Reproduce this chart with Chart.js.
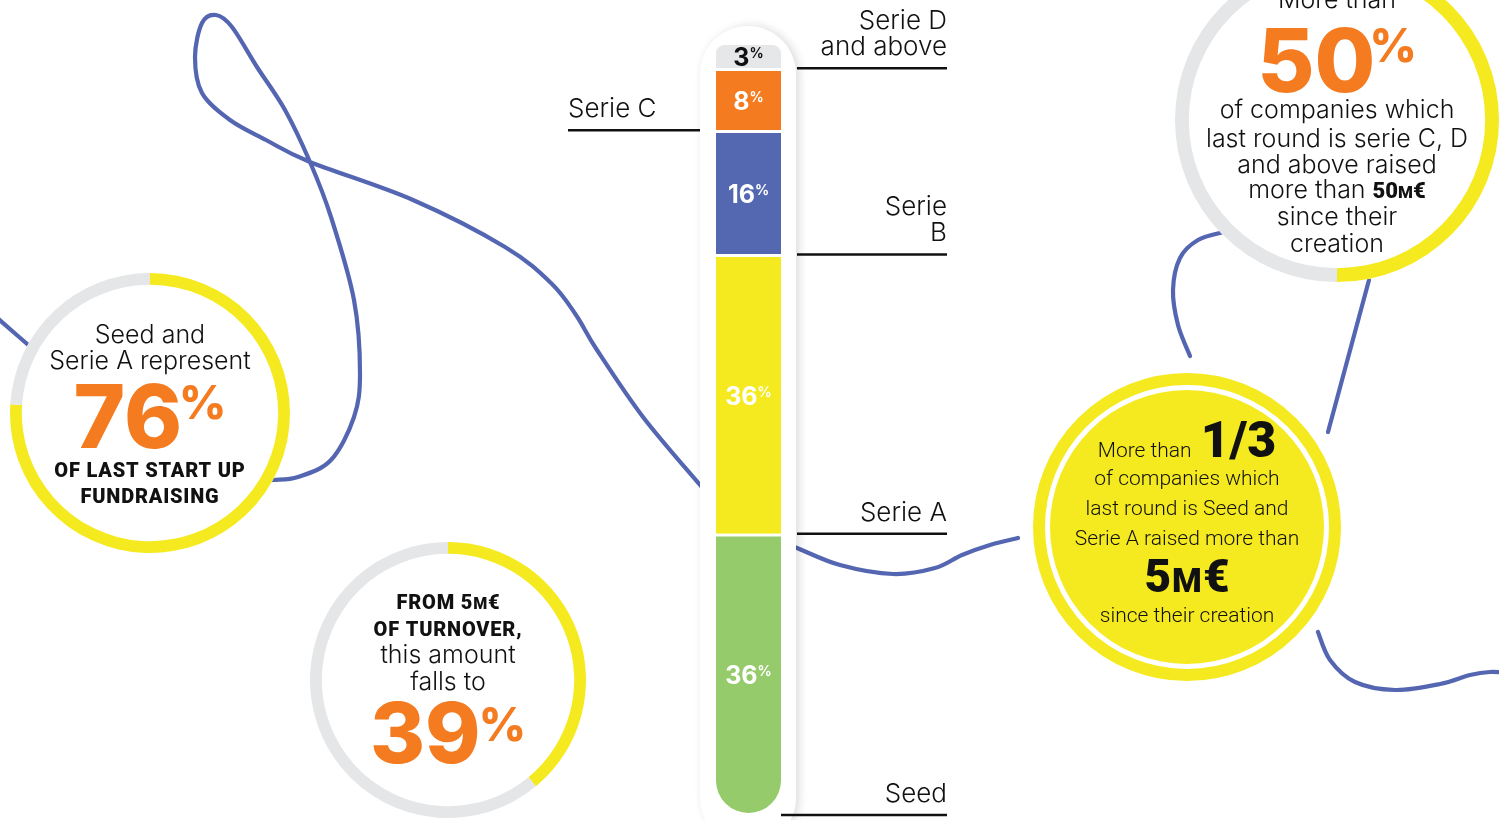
<!DOCTYPE html>
<html>
<head>
<meta charset="utf-8">
<title>Last round of fundraising</title>
<script src="https://cdn.jsdelivr.net/npm/chart.js@4.4.1/dist/chart.umd.min.js"></script>
<style>
html,body{margin:0;padding:0;background:#fff;overflow:hidden;width:1499px;height:820px}
#stage{position:relative;width:1499px;height:820px;overflow:hidden;background:#fff}
#stage canvas{position:absolute}
</style>
</head>
<body>
<div id="stage">
<canvas id="main" width="1499" height="820" style="left:0;top:0"></canvas>
<canvas id="ring0"></canvas>
<canvas id="ring1"></canvas>
<canvas id="ring2"></canvas>
</div>
<script>
// ================= DATA =================
const categories = ['Seed', 'Serie A', 'Serie B', 'Serie C', 'Serie D and above'];
const shares = [36, 36, 16, 8, 3];
const shareTotal = 99;
const stageLabelLines = [['Seed'], ['Serie A'], ['Serie', 'B'], ['Serie C'], ['Serie D', 'and above']];
const stageLabelSide = ['right', 'right', 'right', 'left', 'right'];
const highlightValues = [76, 39, 50];   // ring gauges (%)
const oneThirdLabel = '1/3';

// ================= STYLE =================
const BLUE = '#5466B1', YELLOW = '#F5EA1F', GRAY = '#E5E6E7', ORANGE = '#F47B20', INK = '#111111';
const stageColors = ['#95CB6B', YELLOW, '#5467B1', ORANGE, '#E6E7E8'];
const valueTextColors = ['#ffffff', '#ffffff', '#ffffff', '#ffffff', INK];
const LIGHT = "300 25px Inter";
const HEAVY = "900 20px Roboto";
const RLIGHT = "300 21px Roboto";

// decorative swirl curves (pure decoration, not data)
const CURVES = [
  [[-5,316],[34,350]],
  [[250,481],[273,480],[298,477],[331,460],[354,417],[360,373],[354,300],[331,217],[310,162],[285,110],[257,67],[232,27],[216,15],[202,23],[195,57],[202,93],[230,120],[266,140],[310,162],[413,200],[505,247],[551,283],[576,315],[597,350],[643,417],[700,485],[720,508]],
  [[760,533],[797,548],[840,565],[893,574],[935,568],[962,555],[990,545],[1018,538]],
  [[1318,632],[1330,660],[1355,682],[1395,690],[1440,684],[1470,675],[1490,672],[1510,673]],
  [[1190,356],[1178,325],[1173,290],[1180,258],[1198,240],[1224,232]],
  [[1328,432],[1369,280]]
];

function spline(ctx, pts) {
  ctx.beginPath();
  ctx.moveTo(pts[0][0], pts[0][1]);
  for (let i = 0; i < pts.length - 1; i++) {
    const p0 = pts[i - 1] || pts[i], p1 = pts[i], p2 = pts[i + 1], p3 = pts[i + 2] || p2;
    ctx.bezierCurveTo(p1[0] + (p2[0] - p0[0]) / 6, p1[1] + (p2[1] - p0[1]) / 6,
                      p2[0] - (p3[0] - p1[0]) / 6, p2[1] - (p3[1] - p1[1]) / 6, p2[0], p2[1]);
  }
  ctx.stroke();
}

function runsLine(ctx, cx, baseline, runs) {
  let total = 0;
  runs.forEach(r => {
    ctx.font = r.f; ctx.letterSpacing = (r.ls || 0) + 'px';
    r.w = ctx.measureText(r.t).width; total += r.w + (r.gap || 0);
  });
  let x = cx - total / 2;
  ctx.textAlign = 'left';
  ctx.textBaseline = 'alphabetic';
  runs.forEach(r => {
    ctx.font = r.f; ctx.fillStyle = r.c || INK; ctx.letterSpacing = (r.ls || 0) + 'px';
    ctx.fillText(r.t, x + (r.gap || 0), baseline + (r.dy || 0));
    x += r.w + (r.gap || 0);
  });
  ctx.letterSpacing = '0px';
}

function capsulePath(ctx, x, y, w, h, r) {
  ctx.beginPath();
  ctx.moveTo(x + r, y);
  ctx.lineTo(x + w - r, y);
  ctx.arc(x + w - r, y + r, r, -Math.PI / 2, 0);
  ctx.lineTo(x + w, y + h - r);
  ctx.arc(x + w - r, y + h - r, r, 0, Math.PI / 2);
  ctx.lineTo(x + r, y + h);
  ctx.arc(x + r, y + h - r, r, Math.PI / 2, Math.PI);
  ctx.lineTo(x, y + r);
  ctx.arc(x + r, y + r, r, Math.PI, Math.PI * 1.5);
  ctx.closePath();
}

// ================= MAIN STACKED BAR =================
const decor = {
  id: 'decor',
  beforeDatasetsDraw(chart) {
    const ctx = chart.ctx, a = chart.chartArea;
    ctx.save();
    ctx.strokeStyle = BLUE; ctx.lineWidth = 4.2; ctx.lineCap = 'round'; ctx.lineJoin = 'round';
    CURVES.forEach(p => spline(ctx, p));

    // yellow "1/3" bubble
    const cx = 1187, cy = 527;
    ctx.fillStyle = '#fff';
    ctx.beginPath(); ctx.arc(cx, cy, 155, 0, Math.PI * 2); ctx.fill();
    ctx.strokeStyle = YELLOW; ctx.lineWidth = 12;
    ctx.beginPath(); ctx.arc(cx, cy, 148, 0, Math.PI * 2); ctx.stroke();
    ctx.fillStyle = YELLOW;
    ctx.beginPath(); ctx.arc(cx, cy, 137, 0, Math.PI * 2); ctx.fill();
    runsLine(ctx, cx, cy - 70, [{t: 'More than ', f: RLIGHT}, {t: oneThirdLabel, f: '900 50px Roboto', gap: 4}]);
    runsLine(ctx, cx, cy - 42, [{t: 'of companies which', f: RLIGHT}]);
    runsLine(ctx, cx, cy - 12, [{t: 'last round is Seed and', f: RLIGHT}]);
    runsLine(ctx, cx, cy + 18, [{t: 'Serie A raised more than', f: RLIGHT}]);
    runsLine(ctx, cx, cy + 65, [{t: '5', f: '900 46px Roboto'}, {t: 'M', f: '900 34px Roboto', gap: 1}, {t: '€', f: '900 46px Roboto', gap: 1}]);
    runsLine(ctx, cx, cy + 95, [{t: 'since their creation', f: RLIGHT}]);

    // white capsule holding the bar
    ctx.shadowColor = 'rgba(0,0,0,0.14)'; ctx.shadowBlur = 10; ctx.shadowOffsetX = 3;
    ctx.fillStyle = '#fff';
    capsulePath(ctx, a.left - 16, a.top - 19, (a.right - a.left) + 31, 820, 48);
    ctx.fill();
    ctx.restore();
  },
  afterDatasetsDraw(chart) {
    const ctx = chart.ctx, a = chart.chartArea;
    ctx.save();
    chart.data.datasets.forEach((ds, i) => {
      const bar = chart.getDatasetMeta(i).data[0];
      const top = Math.min(bar.y, bar.base), bot = Math.max(bar.y, bar.base);
      const cy = (top + bot) / 2 + (i < categories.length - 1 ? 1.5 : 0);
      runsLine(ctx, bar.x, cy + 9, [
        {t: String(shares[i]), f: '700 25px Inter', c: valueTextColors[i]},
        {t: '%', f: '700 14px Inter', c: valueTextColors[i], dy: -8, gap: 0}
      ]);
      // stage label + rule at the bottom edge of its segment
      const lineY = bot + (i === 0 ? 2 : 0);
      const lines = stageLabelLines[i];
      ctx.strokeStyle = INK; ctx.lineWidth = 2.5; ctx.lineCap = 'butt';
      ctx.fillStyle = INK; ctx.font = '300 26px Inter'; ctx.textBaseline = 'alphabetic';
      let x0, x1, tx;
      if (stageLabelSide[i] === 'left') {
        x0 = a.left - 148; x1 = a.left - 16; ctx.textAlign = 'left'; tx = x0;
      } else {
        x0 = i === 0 ? a.right : a.right + 16; x1 = a.right + 166; ctx.textAlign = 'right'; tx = x1;
      }
      ctx.beginPath(); ctx.moveTo(x0, lineY); ctx.lineTo(x1, lineY); ctx.stroke();
      lines.forEach((ln, k) => {
        ctx.fillText(ln, tx, lineY - 13 - (lines.length - 1 - k) * 26);
      });
    });
    ctx.restore();
  }
};

const datasets = categories.map((c, i) => ({
  label: c,
  data: [shares[i]],
  backgroundColor: stageColors[i],
  borderColor: '#ffffff',
  borderWidth: i === categories.length - 1 ? 0 : {top: 3, right: 0, bottom: 0, left: 0},
  borderSkipped: false,
  borderRadius: i === 0 ? {topLeft: 0, topRight: 0, bottomLeft: 33, bottomRight: 33}
              : (i === categories.length - 1 ? {topLeft: 10, topRight: 10, bottomLeft: 0, bottomRight: 0} : 0),
  barPercentage: 1,
  categoryPercentage: 1,
  stack: 'rounds'
}));

new Chart(document.getElementById('main'), {
  type: 'bar',
  data: {labels: ['Last round'], datasets},
  options: {
    responsive: false, animation: false, events: [],
    layout: {padding: {left: 716, right: 718, top: 45, bottom: 7}},
    scales: {
      x: {stacked: true, display: false},
      y: {stacked: true, display: false, min: 0, max: shareTotal}
    },
    plugins: {legend: {display: false}, tooltip: {enabled: false}}
  },
  plugins: [decor]
});

// ================= RING GAUGES =================
function makeRing(id, cx, cy, R, width, value, drawText) {
  const S = 2 * R + 4;
  const cv = document.getElementById(id);
  cv.width = S; cv.height = S;
  cv.style.left = Math.round(cx - S / 2) + 'px';
  cv.style.top = Math.round(cy - S / 2) + 'px';
  return new Chart(cv, {
    type: 'doughnut',
    data: {labels: ['share', 'rest'], datasets: [{data: [value, 100 - value], backgroundColor: [YELLOW, GRAY], borderWidth: 0}]},
    options: {
      responsive: false, animation: false, events: [],
      radius: R, cutout: R - width,
      layout: {padding: 0},
      plugins: {legend: {display: false}, tooltip: {enabled: false}}
    },
    plugins: [{
      id: 'disc',
      beforeDatasetsDraw(chart) {
        const c = chart.ctx, a = chart.chartArea;
        c.save(); c.fillStyle = '#fff';
        c.beginPath(); c.arc((a.left + a.right) / 2, (a.top + a.bottom) / 2, R, 0, Math.PI * 2); c.fill();
        c.restore();
      },
      afterDatasetsDraw(chart) {
        const c = chart.ctx, a = chart.chartArea;
        c.save(); drawText(c, (a.left + a.right) / 2, (a.top + a.bottom) / 2); c.restore();
      }
    }]
  });
}

makeRing('ring0', 149.5, 412.5, 140, 10, highlightValues[0], (c, x, y) => {
  runsLine(c, x, y - 70, [{t: 'Seed and', f: LIGHT}]);
  runsLine(c, x, y - 44, [{t: 'Serie A represent', f: LIGHT}]);
  runsLine(c, x, y + 35, [{t: String(highlightValues[0]), f: '800 88px Inter', c: ORANGE},
                          {t: '%', f: '800 46px Inter', c: ORANGE, dy: -29, gap: -3}]);
  runsLine(c, x, y + 64, [{t: 'OF LAST START UP', f: HEAVY, ls: 0.8}]);
  runsLine(c, x, y + 90, [{t: 'FUNDRAISING', f: HEAVY, ls: 0.8}]);
});

makeRing('ring1', 448, 680, 138, 10, highlightValues[1], (c, x, y) => {
  runsLine(c, x, y - 71, [{t: 'FROM 5', f: HEAVY, ls: 0.8}, {t: 'M', f: '900 16px Roboto', ls: 0.8}, {t: '€', f: HEAVY}]);
  runsLine(c, x, y - 44, [{t: 'OF TURNOVER,', f: HEAVY, ls: 0.8}]);
  runsLine(c, x, y - 17, [{t: 'this amount', f: LIGHT}]);
  runsLine(c, x, y + 10, [{t: 'falls to', f: LIGHT}]);
  runsLine(c, x, y + 83, [{t: String(highlightValues[1]), f: '800 84px Inter', c: ORANGE},
                          {t: '%', f: '800 46px Inter', c: ORANGE, dy: -22, gap: -2}]);
});

makeRing('ring2', 1337, 120, 162, 12, highlightValues[2], (c, x, y) => {
  runsLine(c, x, y - 112, [{t: 'More than', f: LIGHT}]);
  runsLine(c, x, y - 28, [{t: String(highlightValues[2]), f: '800 88px Inter', c: ORANGE},
                          {t: '%', f: '800 46px Inter', c: ORANGE, dy: -30, gap: -6}]);
  runsLine(c, x, y - 2, [{t: 'of companies which', f: LIGHT}]);
  runsLine(c, x, y + 27, [{t: 'last round is serie C, D', f: LIGHT}]);
  runsLine(c, x, y + 53, [{t: 'and above raised', f: LIGHT}]);
  runsLine(c, x, y + 78, [{t: 'more than ', f: LIGHT}, {t: '50', f: '900 22px Roboto'}, {t: 'M', f: '900 17px Roboto'}, {t: '€', f: '900 22px Roboto'}]);
  runsLine(c, x, y + 105, [{t: 'since their', f: LIGHT}]);
  runsLine(c, x, y + 132, [{t: 'creation', f: LIGHT}]);
});
</script>
</body>
</html>
